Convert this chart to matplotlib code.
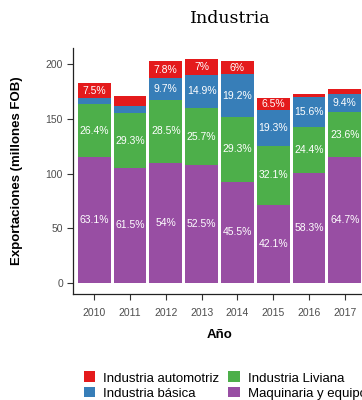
import matplotlib
matplotlib.use("Agg")
import matplotlib.pyplot as plt
from matplotlib.patches import Patch
import numpy as np

plt.rcParams['font.family'] = ['Liberation Sans', 'DejaVu Sans']

years = ['2010', '2011', '2012', '2013', '2014', '2015', '2016', '2017']
totals = [182.6, 171.0, 203.0, 204.8, 203.0, 169.0, 172.9, 177.4]

# shares of each year's total, bottom to top
pct_maquinaria = [63.1, 61.5, 54.0, 52.5, 45.5, 42.1, 58.3, 64.7]
pct_liviana = [26.4, 29.3, 28.5, 25.7, 29.3, 32.1, 24.4, 23.6]
pct_basica = [3.0, 4.0, 9.7, 14.9, 19.2, 19.3, 15.6, 9.4]
pct_automotriz = [7.5, 5.2, 7.8, 7.0, 6.0, 6.5, 1.7, 2.3]

series = [
    ('Maquinaria y equipo', pct_maquinaria, '#984EA3'),
    ('Industria Liviana', pct_liviana, '#4DAF4A'),
    ('Industria básica', pct_basica, '#377EB8'),
    ('Industria automotriz', pct_automotriz, '#E41A1C'),
]

fig = plt.figure(figsize=(3.62, 4.0), dpi=100)
ax = fig.add_axes([72.7 / 362, 1 - 294 / 400, (366.3 - 72.7) / 362, (294 - 48) / 400])

x = np.arange(len(years))
tot = np.array(totals)
bottom = np.zeros(len(years))
for name, pct, color in series:
    vals = tot * np.array(pct) / 100
    ax.bar(x, vals, width=0.92, bottom=bottom, color=color, linewidth=0)
    # small segments get no label
    for xi, b, v, p in zip(x, bottom, vals, pct):
        if p >= 5.5:
            ax.text(xi, b + v / 2, f"{p:g}%", ha='center', va='center',
                    color='white', fontsize=7.5)
    bottom += vals

ax.set_xlim(-0.6, len(years) - 0.4)
ax.set_ylim(-10.24, 215.0)
ax.set_xticks(x)
ax.set_xticklabels(years)
ax.set_yticks([0, 50, 100, 150, 200])
for s in ['top', 'right']:
    ax.spines[s].set_visible(False)
for s in ['left', 'bottom']:
    ax.spines[s].set_linewidth(0.9)
    ax.spines[s].set_color('#222222')
ax.tick_params(axis='both', labelsize=7.5, labelcolor='#4D4D4D',
               color='#333333', length=4, width=0.8, pad=3)
ax.tick_params(axis='x', pad=6)

fig.text(230 / 362, 1 - 23 / 400, 'Industria', ha='center', va='baseline',
         family='DejaVu Serif', fontsize=12.5)
fig.text(17.5 / 362, 1 - 170.5 / 400, 'Exportaciones (millones FOB)',
         rotation=90, ha='center', va='center', fontsize=9.5, fontweight='bold')
fig.text(219.5 / 362, 1 - 335 / 400, 'Año', ha='center', va='center',
         fontsize=9.5, fontweight='bold')

colors = {name: color for name, _, color in series}
order = ['Industria automotriz', 'Industria básica', 'Industria Liviana', 'Maquinaria y equipo']
handles = [Patch(facecolor=colors[n], edgecolor='none', label=n) for n in order]
fig.legend(handles=handles, ncol=2, loc='upper left',
           bbox_to_anchor=(83.5 / 362, 1 - 371.5 / 400), frameon=False,
           fontsize=9.5, handlelength=0.9, handleheight=0.9,
           handletextpad=0.6, columnspacing=0.65, labelspacing=0.15,
           borderpad=0, borderaxespad=0)

fig.savefig('out.png', dpi=100)
